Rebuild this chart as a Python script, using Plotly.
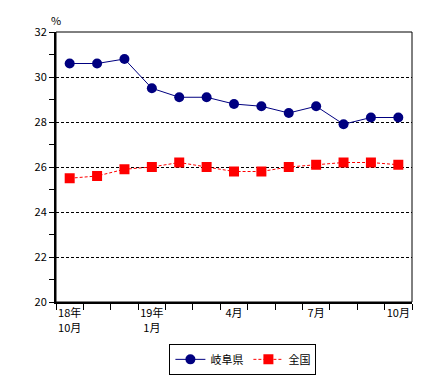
import plotly.graph_objects as go

months = ["18年10月", "11月", "12月", "19年1月", "2月", "3月", "4月", "5月", "6月", "7月", "8月", "9月", "10月"]
gifu = [30.6, 30.6, 30.8, 29.5, 29.1, 29.1, 28.8, 28.7, 28.4, 28.7, 27.9, 28.2, 28.2]
zenkoku = [25.5, 25.6, 25.9, 26.0, 26.2, 26.0, 25.8, 25.8, 26.0, 26.1, 26.2, 26.2, 26.1]
label_idx = [0, 3, 6, 9, 12]
label_text = ["18年<br>10月", "19年<br>1月", "4月", "7月", "10月"]

x = list(range(len(months)))
font = "Noto Sans CJK JP"
boundaries = [i - 0.5 for i in range(len(months) + 1)]

fig = go.Figure()
fig.add_trace(go.Scatter(
    x=x, y=gifu, name="岐阜県", mode="lines+markers",
    line=dict(color="#000080", width=1),
    marker=dict(symbol="circle", size=10, color="#000080"),
    customdata=months,
))
fig.add_trace(go.Scatter(
    x=x, y=zenkoku, name="全国", mode="lines+markers",
    line=dict(color="#FF0000", width=1, dash="3px,2px"),
    marker=dict(symbol="square", size=10, color="#FF0000"),
    customdata=months,
))

fig.update_layout(
    width=430, height=379,
    margin=dict(l=48, r=26, t=24, b=79),
    paper_bgcolor="white", plot_bgcolor="white",
    font=dict(family=font, size=11, color="black"),
    legend=dict(
        orientation="h", x=0.525, xanchor="center", y=-0.155, yanchor="top",
        bordercolor="black", borderwidth=1, bgcolor="white",
        font=dict(family=font, size=11), itemwidth=30,
    ),
    showlegend=True,
    xaxis=dict(
        range=[-0.5, len(months) - 0.5],
        tickmode="array",
        tickvals=[x[i] for i in label_idx], ticktext=label_text,
        ticks="", showgrid=False, zeroline=False,
        showline=True, linecolor="black", linewidth=2,
        minor=dict(tickmode="array", tickvals=boundaries, ticks="outside",
                   ticklen=6, tickcolor="black", tickwidth=1, showgrid=False),
        tickfont=dict(family=font, size=11),
    ),
    yaxis=dict(
        range=[20, 32], dtick=2, tick0=20,
        ticks="outside", ticklen=5, tickcolor="black",
        showgrid=True, gridcolor="black", griddash="3px,2px", gridwidth=1,
        zeroline=False, showline=True, linecolor="black", linewidth=2,
        minor=dict(dtick=1, ticks="outside", ticklen=5, tickcolor="black", showgrid=False),
        tickfont=dict(family=font, size=11),
    ),
)
fig.add_shape(type="rect", xref="paper", yref="paper", x0=0, x1=1, y0=0, y1=1,
              line=dict(color="black", width=1), fillcolor="rgba(0,0,0,0)", layer="above")
fig.add_annotation(text="%", xref="paper", yref="paper", x=0, y=1, xanchor="center",
                   yanchor="bottom", yshift=2, showarrow=False, font=dict(family=font, size=11))

fig.write_html("out.html")
